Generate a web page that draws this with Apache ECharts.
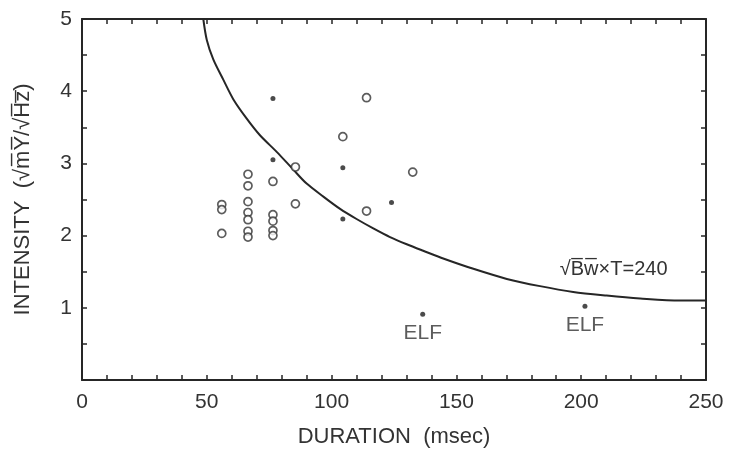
<!DOCTYPE html>
<html>
<head>
<meta charset="utf-8">
<script src="https://cdn.jsdelivr.net/npm/echarts@6/dist/echarts.min.js"></script>
<style>
  html, body { margin: 0; padding: 0; background: #fff; }
  #chart { width: 732px; height: 453px; }
</style>
</head>
<body>
<div id="chart"></div>
<script>
// 空心圆点 (duration msec, intensity)
const openPoints = [
  [56, 2.43], [56, 2.36], [56, 2.03],
  [66.5, 2.85], [66.5, 2.69], [66.5, 2.47], [66.5, 2.32], [66.5, 2.22], [66.5, 2.06], [66.5, 1.98],
  [76.5, 2.75], [76.5, 2.29], [76.5, 2.20], [76.5, 2.07], [76.5, 2.00],
  [85.5, 2.95], [85.5, 2.44],
  [104.5, 3.37],
  [114, 3.91], [114, 2.34],
  [132.5, 2.88]
];
// 实心圆点
const filledPoints = [
  [76.5, 3.90], [76.5, 3.05], [104.5, 2.94], [104.5, 2.23], [124, 2.46]
];
// ELF 点
const elfPoints = [
  [136.5, 0.91], [201.5, 1.02]
];
// 阈值曲线 √Bw×T=240
const curvePoints = [
  [48.6, 5.0], [50, 4.71], [52.6, 4.44], [56.6, 4.16], [60.6, 3.89], [66, 3.62],
  [71.3, 3.39], [78, 3.16], [84.5, 2.92], [90, 2.72], [96.7, 2.54], [103.4, 2.37],
  [110, 2.23], [116.7, 2.10], [123.4, 1.98], [130.1, 1.88], [136.7, 1.79], [145, 1.68],
  [156.8, 1.54], [170.2, 1.40], [183.5, 1.30], [196.8, 1.22], [210.2, 1.17],
  [223.6, 1.13], [239.6, 1.10], [250, 1.10]
];
const curveLabel = '√B̅w̅×T=240';
const curveLabelAt = [213, 1.53];

const xTicks = [0, 50, 100, 150, 200, 250];
const yTicks = [0, 1, 2, 3, 4, 5];

const ink = '#262626';
const textInk = '#333';
const font = 'Liberation Sans';

const chart = echarts.init(document.getElementById('chart'));

// 边框轴公共样式
const frameLine = { onZero: false, lineStyle: { color: ink, width: 2 } };
const tick = { inside: true, length: 5, lineStyle: { color: ink, width: 1.5 } };
const minor = n => ({ show: true, splitNumber: n, length: 5, lineStyle: { color: ink, width: 1.5 } });

const option = {
  backgroundColor: '#fff',
  animation: false,
  grid: { left: 82, right: 26, top: 19, bottom: 70 },
  xAxis: [
    {
      type: 'value',
      min: xTicks[0],
      max: xTicks[xTicks.length - 1],
      interval: 50,
      position: 'bottom',
      name: 'DURATION  (msec)',
      nameLocation: 'middle',
      nameGap: 46,
      nameTextStyle: { color: textInk, fontSize: 22, fontFamily: font },
      axisLine: frameLine,
      axisTick: tick,
      minorTick: minor(5),
      axisLabel: { color: textInk, fontSize: 21, fontFamily: font, margin: 12 },
      splitLine: { show: false }
    },
    {
      type: 'value',
      min: xTicks[0],
      max: xTicks[xTicks.length - 1],
      interval: 50,
      position: 'top',
      axisLine: frameLine,
      axisTick: tick,
      minorTick: minor(5),
      axisLabel: { show: false },
      splitLine: { show: false }
    }
  ],
  yAxis: [
    {
      type: 'value',
      min: yTicks[0],
      max: yTicks[yTicks.length - 1],
      interval: 1,
      position: 'left',
      name: 'INTENSITY  (√m̅Y̅/√H̅z̅)',
      nameLocation: 'middle',
      nameGap: 48,
      nameTextStyle: { color: textInk, fontSize: 22, fontFamily: font },
      axisLine: frameLine,
      axisTick: tick,
      minorTick: minor(2),
      axisLabel: {
        color: textInk, fontSize: 21, fontFamily: font, margin: 10,
        formatter: v => (v === 0 ? '' : v)
      },
      splitLine: { show: false }
    },
    {
      type: 'value',
      min: yTicks[0],
      max: yTicks[yTicks.length - 1],
      interval: 1,
      position: 'right',
      axisLine: frameLine,
      axisTick: tick,
      minorTick: minor(2),
      axisLabel: { show: false },
      splitLine: { show: false }
    }
  ],
  series: [
    {
      type: 'line',
      data: curvePoints,
      smooth: 0.3,
      symbol: 'none',
      lineStyle: { color: ink, width: 2 },
      z: 2,
      markPoint: {
        symbol: 'circle',
        symbolSize: 0,
        data: [{ coord: curveLabelAt }],
        label: {
          show: true,
          formatter: curveLabel,
          color: textInk,
          fontSize: 20,
          fontFamily: font,
          position: 'inside'
        }
      }
    },
    {
      type: 'scatter',
      data: openPoints,
      symbol: 'circle',
      symbolSize: 8,
      itemStyle: { color: '#fff', borderColor: '#333', borderWidth: 1.7 },
      z: 3
    },
    {
      type: 'scatter',
      data: filledPoints,
      symbol: 'circle',
      symbolSize: 5,
      itemStyle: { color: '#1e1e1e' },
      z: 3
    },
    {
      type: 'scatter',
      data: elfPoints,
      symbol: 'circle',
      symbolSize: 5,
      itemStyle: { color: '#1e1e1e' },
      label: {
        show: true,
        formatter: 'ELF',
        position: 'bottom',
        distance: 6,
        color: textInk,
        fontSize: 21,
        fontFamily: font
      },
      z: 3
    }
  ]
};

chart.setOption(option);
</script>
</body>
</html>
